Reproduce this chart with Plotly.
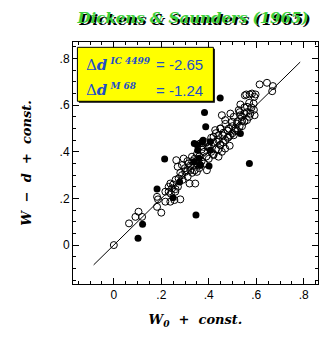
import plotly.graph_objects as go

# open circles: W0 + const. vs W - d + const.
open_x = [0.614, 0.645, 0.670, 0.667, 0.558, 0.572, 0.597, 0.552, 0.592, 0.582,
          0.533, 0.561, 0.589, 0.526, 0.549, 0.575, 0.593, 0.533, 0.505, 0.491,
          0.455, 0.469, 0.498, 0.519, 0.540, 0.561, 0.512, 0.484, 0.448, 0.427,
          0.441, 0.462, 0.484, 0.505, 0.420, 0.434, 0.448, 0.469, 0.488, 0.455,
          0.441, 0.420, 0.395, 0.378, 0.364,
          0.329, 0.294, 0.263, 0.269, 0.287, 0.315, 0.336, 0.364, 0.392, 0.350,
          0.322, 0.301, 0.287, 0.311, 0.273, 0.343, 0.319, 0.238, 0.231, 0.245,
          0.217, 0.231, 0.259, 0.280, 0.255, 0.238, 0.217, 0.182, 0.200, 0.182,
          0.104, 0.091, 0.119, 0.064, 0.186, 0.0,
          0.30, 0.31, 0.32, 0.33, 0.34, 0.35, 0.36, 0.37, 0.38, 0.39,
          0.40, 0.41, 0.42, 0.43, 0.44, 0.45, 0.46, 0.47, 0.48, 0.49,
          0.50, 0.51, 0.52, 0.53, 0.54, 0.55, 0.56, 0.57, 0.58, 0.59,
          0.28, 0.29, 0.26, 0.27, 0.25, 0.24, 0.26, 0.34, 0.36, 0.38,
          0.40, 0.42, 0.44, 0.46, 0.48, 0.50, 0.37, 0.39, 0.41, 0.43,
          0.45, 0.47, 0.35, 0.33, 0.31, 0.53, 0.55, 0.57, 0.52, 0.54]
open_y = [0.689, 0.696, 0.682, 0.660, 0.646, 0.646, 0.646, 0.642, 0.636, 0.650,
          0.603, 0.593, 0.607, 0.579, 0.564, 0.564, 0.557, 0.557, 0.550, 0.564,
          0.557, 0.536, 0.529, 0.521, 0.532, 0.536, 0.500, 0.500, 0.500, 0.493,
          0.471, 0.482, 0.464, 0.471, 0.464, 0.443, 0.429, 0.414, 0.426, 0.400,
          0.379, 0.386, 0.421, 0.421, 0.436,
          0.379, 0.371, 0.364, 0.336, 0.343, 0.350, 0.343, 0.343, 0.321, 0.314,
          0.321, 0.314, 0.300, 0.293, 0.286, 0.264, 0.264, 0.264, 0.250, 0.243,
          0.229, 0.229, 0.229, 0.196, 0.193, 0.186, 0.186, 0.207, 0.139, 0.164,
          0.143, 0.121, 0.121, 0.093, 0.196, 0.0,
          0.33, 0.36, 0.34, 0.31, 0.37, 0.35, 0.38, 0.36, 0.40, 0.38,
          0.42, 0.40, 0.44, 0.41, 0.45, 0.43, 0.47, 0.45, 0.49, 0.47,
          0.51, 0.49, 0.53, 0.51, 0.55, 0.53, 0.57, 0.55, 0.59, 0.58,
          0.31, 0.28, 0.28, 0.25, 0.26, 0.22, 0.24, 0.32, 0.33, 0.35,
          0.37, 0.39, 0.41, 0.44, 0.46, 0.48, 0.41, 0.44, 0.46, 0.48,
          0.50, 0.52, 0.39, 0.36, 0.32, 0.57, 0.59, 0.61, 0.49, 0.51]

# filled circles
fill_x = [0.448, 0.382, 0.387, 0.339, 0.376, 0.406, 0.533, 0.214, 0.353, 0.406,
          0.359, 0.401, 0.571, 0.277, 0.182, 0.249, 0.346, 0.121, 0.102, 0.372,
          0.339, 0.364, 0.350]
fill_y = [0.631, 0.569, 0.507, 0.436, 0.450, 0.443, 0.479, 0.369, 0.407, 0.407,
          0.372, 0.339, 0.350, 0.271, 0.240, 0.203, 0.129, 0.089, 0.029, 0.442,
          0.357, 0.343, 0.430]

# one-to-one line
line_x = [-0.085, 0.785]
line_y = [-0.085, 0.785]

tick_vals = [0, 0.2, 0.4, 0.6, 0.8]
tick_text = ["0", ".2", ".4", ".6", ".8"]

labels = ["IC 4499", "M 68"]
shifts = ["-2.65", "-1.24"]

blue = "#1f4fc8"

fig = go.Figure()
fig.add_trace(go.Scatter(x=line_x, y=line_y, mode="lines",
                         line=dict(color="black", width=1), hoverinfo="skip"))
fig.add_trace(go.Scatter(x=open_x, y=open_y, mode="markers",
                         marker=dict(symbol="circle-open", size=7, color="black",
                                     line=dict(width=1))))
fig.add_trace(go.Scatter(x=fill_x, y=fill_y, mode="markers",
                         marker=dict(symbol="circle", size=7, color="black")))

axis_common = dict(
    showgrid=False, zeroline=False, showline=True, linecolor="black", linewidth=1,
    mirror="allticks", ticks="inside", ticklen=6, tickwidth=1, tickcolor="black",
    tickvals=tick_vals, ticktext=tick_text, automargin=False,
    tickfont=dict(family="Liberation Sans", size=12, color="black"),
    minor=dict(dtick=0.05, tick0=0, ticks="inside", ticklen=3, tickcolor="black"),
)

# page body adds 8px offset, so the figure is 8px smaller and shifted
fig.update_layout(
    width=319, height=331,
    margin=dict(l=65, r=9, t=34, b=55, autoexpand=False),
    paper_bgcolor="white", plot_bgcolor="white",
    showlegend=False,
    title=dict(text="<b><i>Dickens & Saunders (1965)</i></b>", x=0.58, xanchor="center",
               y=0.97, yanchor="middle", automargin=False,
               font=dict(family="DejaVu Serif", size=15, color="#3ccf3c",
                         shadow="2px 2px 0px black")),
    xaxis=dict(range=[-0.172, 0.86],
               title=dict(text="<b><i>W<sub>0</sub>  +  const.</i></b>", standoff=13,
                          font=dict(family="DejaVu Serif", size=13, color="black")),
               **axis_common),
    yaxis=dict(range=[-0.167, 0.871],
               title=dict(text="<b><i>W  \u2212  d  +  const.</i></b>", standoff=25,
                          font=dict(family="DejaVu Serif", size=13, color="black")),
               **axis_common),
)

# yellow label box with shadow
fig.add_shape(type="rect", xref="paper", yref="paper", x0=0.024, x1=0.579, y0=0.749, y1=0.972,
              fillcolor="black", line=dict(width=0), layer="above")
fig.add_shape(type="rect", xref="paper", yref="paper", x0=0.018, x1=0.573, y0=0.755, y1=0.978,
              fillcolor="#ffff00", line=dict(color="black", width=1), layer="above")

row_y = [0.905, 0.80]
for lab, val, yy in zip(labels, shifts, row_y):
    fig.add_annotation(xref="paper", yref="paper", x=0.045, y=yy, xanchor="left", yanchor="middle",
                       text="\u0394<b><i>d</i></b><sup><b><i><span style='font-size:9px'> "
                            + lab + "</span></i></b></sup>",
                       showarrow=False,
                       font=dict(family="DejaVu Serif", size=15, color=blue))
    fig.add_annotation(xref="paper", yref="paper", x=0.33, y=yy, xanchor="left", yanchor="middle",
                       text="= " + val, showarrow=False,
                       font=dict(family="Liberation Sans", size=15, color=blue))

fig.write_html("out.html")
